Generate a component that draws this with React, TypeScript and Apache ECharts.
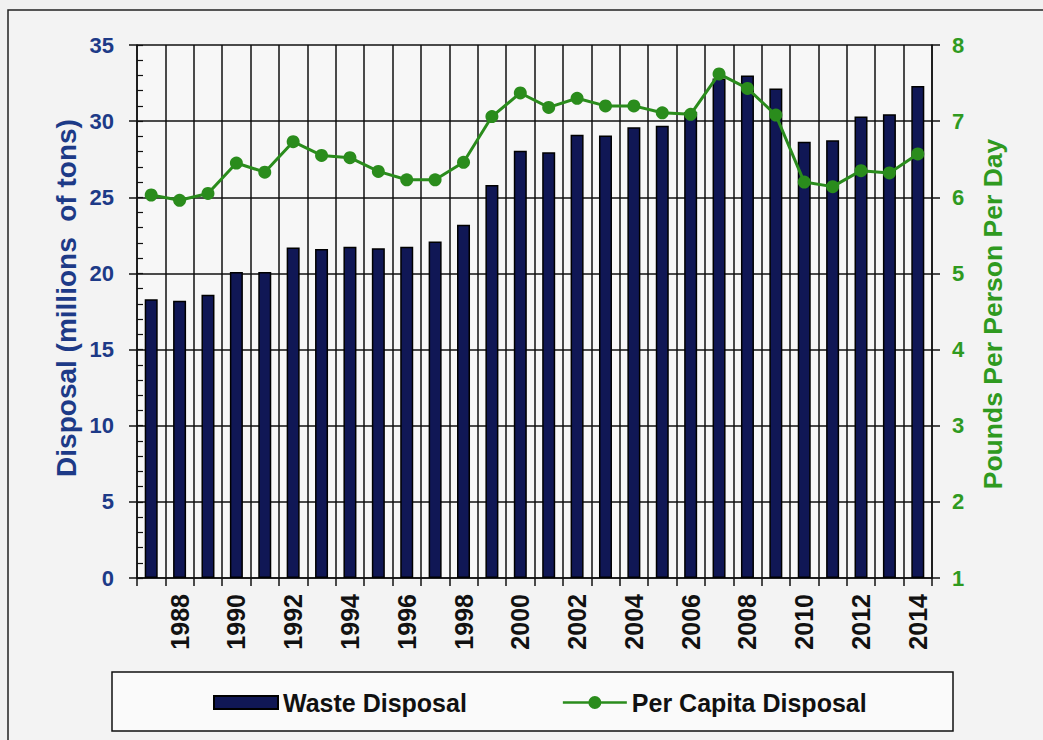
import React, { useEffect, useRef } from 'react';
import * as echarts from 'echarts';

const years = ['1987','1988','1989','1990','1991','1992','1993','1994','1995','1996','1997','1998','1999','2000','2001','2002','2003','2004','2005','2006','2007','2008','2009','2010','2011','2012','2013','2014'];
const wasteDisposal = [18.3, 18.2, 18.6, 20.1, 20.1, 21.7, 21.6, 21.75, 21.65, 21.75, 22.1, 23.2, 25.8, 28.05, 27.95, 29.1, 29.05, 29.6, 29.7, 30.6, 32.8, 33.0, 32.15, 28.65, 28.75, 30.3, 30.45, 32.3];
const perCapita = [6.03, 5.96, 6.05, 6.45, 6.33, 6.73, 6.55, 6.52, 6.34, 6.23, 6.23, 6.46, 7.06, 7.37, 7.18, 7.30, 7.20, 7.20, 7.11, 7.09, 7.62, 7.43, 7.08, 6.20, 6.14, 6.35, 6.32, 6.57];

const NAVY_TEXT = '#1d3a87';
const GREEN_TEXT = '#2f9a1f';
const GREEN = '#2a8c1c';
const BAR = '#101755';
const FONT = 'Arial, "Liberation Sans", sans-serif';
const LINE_ICON = 'path://M0,5.2h26v2.6h-26z M38,5.2h26v2.6h-26z M38.5,6.5a6.5,6.5 0 1,1 -13,0a6.5,6.5 0 1,1 13,0z';

export default function App() {
  const ref = useRef<HTMLDivElement>(null);
  useEffect(() => {
    if (!ref.current) return;
    const chart = echarts.init(ref.current, null, { renderer: 'svg' });
    const gridLeft = 137, gridTop = 45, gridRight = 111, gridBottom = 162;
    chart.setOption({
      animation: false,
      backgroundColor: '#f1f1f1',
      textStyle: { fontFamily: FONT },
      graphic: [
        { type: 'rect', z: -10, shape: { x: 8, y: 10, width: 1100, height: 800 }, style: { fill: '#f3f3f3', stroke: '#222', lineWidth: 1.5 } },
        { type: 'rect', z: -5, shape: { x: 112, y: 672, width: 841, height: 59 }, style: { fill: '#fafafa', stroke: '#111', lineWidth: 1.5 } },
        { type: 'text', x: 66, y: 298, rotation: Math.PI / 2, style: { text: 'Disposal (millions  of tons)', fill: NAVY_TEXT, font: 'bold 28px ' + FONT, align: 'center', verticalAlign: 'middle' } },
        { type: 'text', x: 993, y: 314, rotation: Math.PI / 2, style: { text: 'Pounds Per Person Per Day', fill: GREEN_TEXT, font: 'bold 26.5px ' + FONT, align: 'center', verticalAlign: 'middle' } },
      ],
      grid: { left: gridLeft, top: gridTop, right: gridRight, bottom: gridBottom, show: true, backgroundColor: '#f7f7f7', borderWidth: 0 },
      legend: {
        left: 208, top: 685,
        itemWidth: 64, itemHeight: 13, itemGap: 96,
        textStyle: { fontSize: 25, fontWeight: 'bold', color: '#111', fontFamily: FONT },
        data: [
          { name: 'Waste Disposal', icon: 'rect' },
          { name: 'Per Capita Disposal', icon: LINE_ICON },
        ],
      },
      xAxis: {
        type: 'category',
        data: years,
        boundaryGap: true,
        axisLine: { lineStyle: { color: '#111', width: 1.5 } },
        axisTick: { show: true, interval: 0, length: 8, lineStyle: { color: '#111', width: 1.5 } },
        axisLabel: {
          interval: (i: number) => i % 2 === 1,
          rotate: 90, margin: 16, color: '#111', fontSize: 25, fontWeight: 'bold', fontFamily: FONT,
        },
        splitLine: { show: true, interval: 0, lineStyle: { color: '#111', width: 1.5 } },
      },
      yAxis: [
        {
          type: 'value', position: 'left', min: 0, max: 35, interval: 5,
          axisLine: { show: true, lineStyle: { color: '#111', width: 1.5 } },
          axisTick: { show: true, length: 8, lineStyle: { color: '#111', width: 1.5 } },
          axisLabel: { color: NAVY_TEXT, fontSize: 22, fontWeight: 'bold', margin: 23, fontFamily: FONT },
          splitLine: { show: true, lineStyle: { color: '#111', width: 1.5 } },
        },
        {
          type: 'value', position: 'right', min: 1, max: 8, interval: 1,
          axisLine: { show: true, lineStyle: { color: '#111', width: 1.5 } },
          axisTick: { show: true, length: 8, lineStyle: { color: '#111', width: 1.5 } },
          axisLabel: { color: GREEN_TEXT, fontSize: 22, fontWeight: 'bold', margin: 20, fontFamily: FONT },
          splitLine: { show: false },
        },
        {
          type: 'value', position: 'left', min: 0, max: 35, interval: 1,
          axisLine: { show: false },
          axisTick: { show: true, inside: true, length: 6, lineStyle: { color: '#111', width: 1.2 } },
          axisLabel: { show: false },
          splitLine: { show: false },
        },
      ],
      series: [
        {
          name: 'Waste Disposal', type: 'bar', yAxisIndex: 0, data: wasteDisposal,
          barWidth: 13,
          itemStyle: { color: BAR, borderColor: '#000', borderWidth: 1.5 },
        },
        {
          name: 'Per Capita Disposal', type: 'line', yAxisIndex: 1, data: perCapita,
          symbol: 'circle', symbolSize: 13,
          lineStyle: { color: GREEN, width: 3 },
          itemStyle: { color: GREEN },
          z: 5,
        },
      ],
    });
    return () => chart.dispose();
  }, []);
  return <div ref={ref} style={{ position: 'fixed', left: 0, top: 0, width: 1043, height: 740 }} />;
}
